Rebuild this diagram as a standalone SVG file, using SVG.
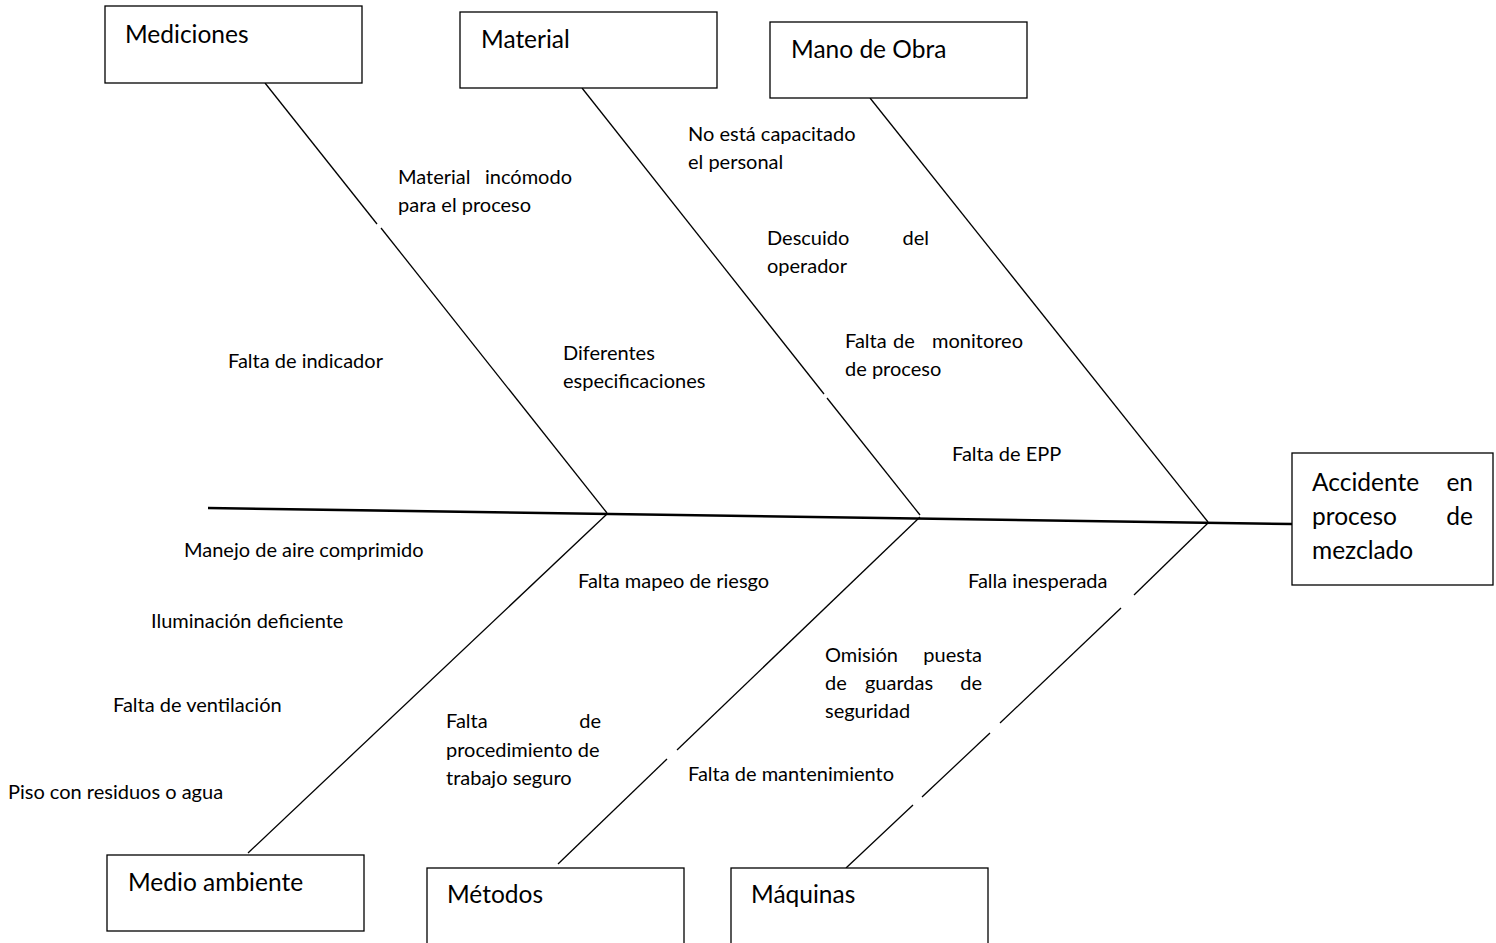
<svg xmlns="http://www.w3.org/2000/svg" width="1496" height="943" viewBox="0 0 1496 943">
  <style>
    .box { fill: #ffffff; stroke: #000000; stroke-width: 1.3; }
    .title { font-family: Lato, "Open Sans", "Liberation Sans", sans-serif; font-size: 24.5px; fill: #000000; }
    .lbl { font-family: Lato, "Open Sans", "Liberation Sans", sans-serif; font-size: 20px; fill: #000000; }
    .bone { stroke: #000000; stroke-width: 1.3; fill: none; }
    .spine { stroke: #000000; stroke-width: 2.6; fill: none; }
  </style>
  <rect width="1496" height="943" fill="#ffffff"/>

  <!-- connectors: spine and cause bones -->
  <g id="connectors">
    <line class="spine" x1="208" y1="508" x2="1292" y2="524"/>
    <!-- Mediciones -->
    <line class="bone" x1="265" y1="83" x2="377" y2="224"/>
    <line class="bone" x1="381" y1="228" x2="607" y2="513"/>
    <!-- Material -->
    <line class="bone" x1="582" y1="88" x2="824" y2="394"/>
    <line class="bone" x1="827" y1="398" x2="920" y2="515"/>
    <!-- Mano de Obra -->
    <line class="bone" x1="870" y1="98" x2="1208" y2="522"/>
    <!-- Medio ambiente -->
    <line class="bone" x1="607" y1="514" x2="248" y2="853"/>
    <!-- Métodos -->
    <line class="bone" x1="920" y1="517" x2="677" y2="750"/>
    <line class="bone" x1="667" y1="759" x2="558" y2="864"/>
    <!-- Máquinas -->
    <line class="bone" x1="1208" y1="523" x2="1134" y2="595"/>
    <line class="bone" x1="1121" y1="608" x2="1000" y2="723"/>
    <line class="bone" x1="990" y1="733" x2="922" y2="797"/>
    <line class="bone" x1="913" y1="805" x2="846" y2="868"/>
  </g>

  <!-- category nodes -->
  <g id="node-mediciones">
    <rect class="box" x="105" y="6" width="257" height="77"/>
    <text class="title" x="125" y="43">Mediciones</text>
  </g>
  <g id="node-material">
    <rect class="box" x="460" y="12" width="257" height="76"/>
    <text class="title" x="481" y="48">Material</text>
  </g>
  <g id="node-mano-de-obra">
    <rect class="box" x="770" y="22" width="257" height="76"/>
    <text class="title" x="791" y="58">Mano de Obra</text>
  </g>
  <g id="node-medio-ambiente">
    <rect class="box" x="107" y="855" width="257" height="76"/>
    <text class="title" x="128" y="891">Medio ambiente</text>
  </g>
  <g id="node-metodos">
    <rect class="box" x="427" y="868" width="257" height="90"/>
    <text class="title" x="447" y="903">Métodos</text>
  </g>
  <g id="node-maquinas">
    <rect class="box" x="731" y="868" width="257" height="90"/>
    <text class="title" x="751" y="903">Máquinas</text>
  </g>

  <!-- effect node -->
  <g id="node-efecto">
    <rect class="box" x="1292" y="453" width="201" height="132"/>
    <text class="title" x="1312" y="491">Accidente</text>
    <text class="title" x="1473" y="491" text-anchor="end">en</text>
    <text class="title" x="1312" y="525">proceso</text>
    <text class="title" x="1473" y="525" text-anchor="end">de</text>
    <text class="title" x="1312" y="559">mezclado</text>
  </g>

  <!-- cause labels -->
  <g id="causes">
    <text class="lbl" x="688" y="141">No está capacitado</text>
    <text class="lbl" x="688" y="169">el personal</text>

    <text class="lbl" x="398" y="184">Material</text>
    <text class="lbl" x="572" y="184" text-anchor="end">incómodo</text>
    <text class="lbl" x="398" y="212">para el proceso</text>

    <text class="lbl" x="767" y="245">Descuido</text>
    <text class="lbl" x="929" y="245" text-anchor="end">del</text>
    <text class="lbl" x="767" y="273">operador</text>

    <text class="lbl" x="845" y="348">Falta</text>
    <text class="lbl" x="904" y="348" text-anchor="middle">de</text>
    <text class="lbl" x="1023" y="348" text-anchor="end">monitoreo</text>
    <text class="lbl" x="845" y="376">de proceso</text>

    <text class="lbl" x="228" y="368">Falta de indicador</text>

    <text class="lbl" x="563" y="360">Diferentes</text>
    <text class="lbl" x="563" y="388">especificaciones</text>

    <text class="lbl" x="952" y="461">Falta de EPP</text>

    <text class="lbl" x="184" y="557">Manejo de aire comprimido</text>
    <text class="lbl" x="151" y="628">Iluminación deficiente</text>
    <text class="lbl" x="113" y="712">Falta de ventilación</text>
    <text class="lbl" x="8" y="799">Piso con residuos o agua</text>

    <text class="lbl" x="578" y="588">Falta mapeo de riesgo</text>

    <text class="lbl" x="446" y="728">Falta</text>
    <text class="lbl" x="601" y="728" text-anchor="end">de</text>
    <text class="lbl" x="446" y="757">procedimiento de</text>
    <text class="lbl" x="446" y="785">trabajo seguro</text>

    <text class="lbl" x="968" y="588">Falla inesperada</text>

    <text class="lbl" x="825" y="662">Omisión</text>
    <text class="lbl" x="982" y="662" text-anchor="end">puesta</text>
    <text class="lbl" x="825" y="690">de</text>
    <text class="lbl" x="899" y="690" text-anchor="middle">guardas</text>
    <text class="lbl" x="982" y="690" text-anchor="end">de</text>
    <text class="lbl" x="825" y="718">seguridad</text>

    <text class="lbl" x="688" y="781">Falta de mantenimiento</text>
  </g>
</svg>
